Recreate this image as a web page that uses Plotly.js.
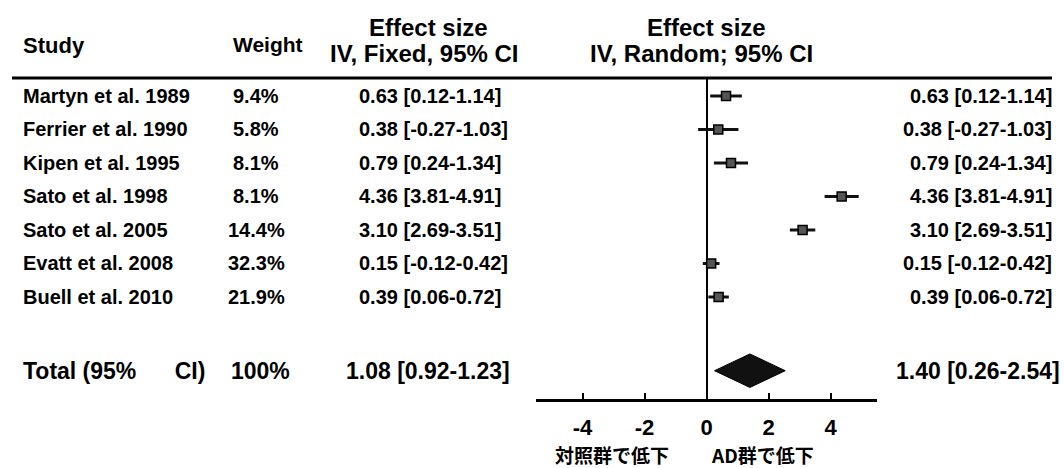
<!DOCTYPE html>
<html>
<head>
<meta charset="utf-8">
<script src="https://cdn.plot.ly/plotly-3.0.1.min.js"></script>
<style>html,body{margin:0;padding:0;background:#fff;}#chart{width:1064px;height:468px;}</style>
</head>
<body>
<div id="chart"></div>
<script>
// ---- data ----
var studies = ['Martyn et al. 1989', 'Ferrier et al. 1990', 'Kipen et al. 1995', 'Sato et al. 1998', 'Sato et al. 2005', 'Evatt et al. 2008', 'Buell et al. 2010'];
var weights = ['9.4%', '5.8%', '8.1%', '8.1%', '14.4%', '32.3%', '21.9%'];
var effect = [0.63, 0.38, 0.79, 4.36, 3.10, 0.15, 0.39];
var lower  = [0.12, -0.27, 0.24, 3.81, 2.69, -0.12, 0.06];
var upper  = [1.14, 1.03, 1.34, 4.91, 3.51, 0.42, 0.72];
var totalLabel = 'Total (95%\u00a0\u00a0\u00a0\u00a0\u00a0\u00a0CI)';
var totalWeight = '100%';
var fixedTotal = [1.08, 0.92, 1.23];   // estimate, lower, upper
var randomTotal = [1.40, 0.26, 2.54];
var tickVals = [-4, -2, 0, 2, 4];
var tickText = ['-4', '-2', '0', '2', '4'];
var axisLabels = ['対照群で低下', 'AD群で低下'];
var headers = {study: 'Study', weight: 'Weight', es: 'Effect size', fixed: 'IV, Fixed, 95% CI', random: 'IV, Random; 95% CI'};

// ---- helpers ----
var W = 1064, H = 468;
function px(x) { return x / W; }
function py(y) { return (H - y) / H; }
function fmt(e, l, u) { return e.toFixed(2) + ' [' + l.toFixed(2) + '-' + u.toFixed(2) + ']'; }
var FONT = 'Liberation Sans, Arial, Helvetica, sans-serif';
var JFONT = 'Noto Sans CJK JP, sans-serif';
var rowIdx = studies.map(function (_, i) { return i; });
var totalRow = 8.2;

var traces = [{
  type: 'scatter', mode: 'markers',
  x: effect, y: rowIdx,
  marker: {symbol: 'square', size: 9, color: '#555', line: {color: '#000', width: 1.5}},
  error_x: {
    type: 'data', symmetric: false,
    array: upper.map(function (u, i) { return u - effect[i]; }),
    arrayminus: lower.map(function (l, i) { return effect[i] - l; }),
    thickness: 3, width: 0, color: '#111'
  },
  hoverinfo: 'skip', showlegend: false
}, {
  type: 'scatter', mode: 'lines',
  x: [randomTotal[1], randomTotal[0], randomTotal[2], randomTotal[0], randomTotal[1]],
  y: [totalRow, totalRow - 0.5, totalRow, totalRow + 0.5, totalRow],
  fill: 'toself', fillcolor: '#111', line: {color: '#000', width: 1},
  hoverinfo: 'skip', showlegend: false
}];

var ann = [];
function txt(text, x, xref, y, yref, anchor, size, family) {
  ann.push({text: text, x: x, xref: xref, y: y, yref: yref, xanchor: anchor, yanchor: 'middle',
    showarrow: false, borderpad: 0,
    font: {family: family || FONT, size: size, color: '#000', weight: 'bold'}});
}
// headers
txt(headers.study, px(22), 'paper', py(46), 'paper', 'left', 22);
txt(headers.weight, px(268), 'paper', py(45), 'paper', 'center', 21);
txt(headers.es, px(428), 'paper', py(27), 'paper', 'center', 24);
txt(headers.fixed, px(424), 'paper', py(53), 'paper', 'center', 24);
txt(headers.es, px(706), 'paper', py(27), 'paper', 'center', 24);
txt(headers.random, px(701), 'paper', py(53), 'paper', 'center', 24);
// rows
studies.forEach(function (s, i) {
  txt(s, px(22), 'paper', i, 'y', 'left', 20);
  txt(weights[i], px(256), 'paper', i, 'y', 'center', 20);
  txt(fmt(effect[i], lower[i], upper[i]), px(358), 'paper', i, 'y', 'left', 20);
  txt(fmt(effect[i], lower[i], upper[i]), px(1053), 'paper', i, 'y', 'right', 20);
});
// total
txt(totalLabel, px(22), 'paper', totalRow, 'y', 'left', 23);
txt(totalWeight, px(260), 'paper', totalRow, 'y', 'center', 23);
txt(fmt(fixedTotal[0], fixedTotal[1], fixedTotal[2]), px(345), 'paper', totalRow, 'y', 'left', 23);
txt(fmt(randomTotal[0], randomTotal[1], randomTotal[2]), px(1061), 'paper', totalRow, 'y', 'right', 23);
// axis labels
txt(axisLabels[0], px(612), 'paper', py(454), 'paper', 'center', 19, JFONT);
txt(axisLabels[1], px(762), 'paper', py(454), 'paper', 'center', 19, JFONT);

var layout = {
  width: W, height: H,
  margin: {l: 0, r: 0, t: 0, b: 0, pad: 0},
  paper_bgcolor: '#fff', plot_bgcolor: '#fff',
  showlegend: false,
  xaxis: {
    domain: [px(536), px(877)], range: [-5.5, 5.5],
    showline: true, linecolor: '#000', linewidth: 3,
    ticks: 'inside', ticklen: 6, tickwidth: 2, tickcolor: '#000',
    tickvals: tickVals, ticktext: tickText, ticklabelstandoff: 7,
    tickfont: {family: FONT, size: 22, color: '#000', weight: 'bold'},
    showgrid: false, zeroline: true, zerolinecolor: '#000', zerolinewidth: 2,
    fixedrange: true
  },
  yaxis: {
    domain: [py(399), py(78)], range: [9.045, -0.537],
    showline: false, showgrid: false, zeroline: false, showticklabels: false, ticks: '',
    fixedrange: true
  },
  shapes: [{type: 'line', xref: 'paper', yref: 'paper', x0: px(12), x1: px(1052), y0: py(78), y1: py(78),
    line: {color: '#000', width: 3}}],
  annotations: ann
};

Plotly.newPlot('chart', traces, layout, {staticPlot: true, displayModeBar: false});
</script>
</body>
</html>
